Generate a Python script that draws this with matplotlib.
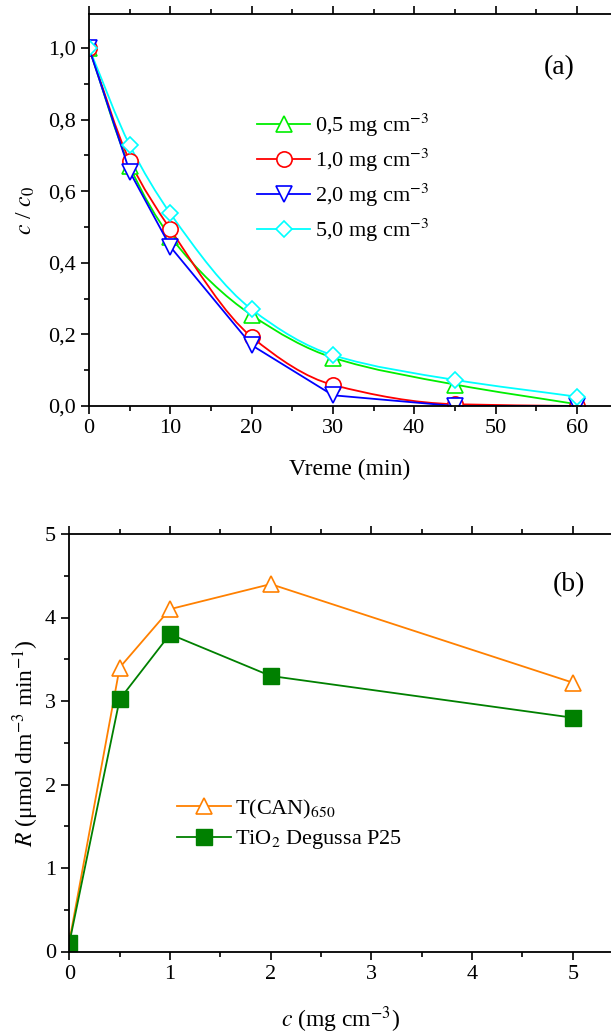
import numpy as np
import matplotlib
matplotlib.use("Agg")
import matplotlib.pyplot as plt
from matplotlib.path import Path
from matplotlib.patches import PathPatch
from matplotlib.lines import Line2D
from matplotlib.ticker import MultipleLocator, FuncFormatter

plt.rcParams['font.family'] = ['Liberation Serif', 'DejaVu Serif']
plt.rcParams['mathtext.fontset'] = 'stix'

# (a) c/c0 u zavisnosti od vremena
vreme = [0, 5, 10, 20, 30, 45, 60]
c_05 = [1.0, 0.67, 0.473, 0.254, 0.135, 0.06, 0.005]
c_10 = [1.0, 0.685, 0.494, 0.193, 0.059, 0.005, 0.0]
c_20 = [1.0, 0.655, 0.445, 0.17, 0.03, 0.0, 0.0]
c_50 = [1.0, 0.729, 0.538, 0.27, 0.142, 0.073, 0.026]
oznake_a = ["0,5 mg cm$^{-3}$", "1,0 mg cm$^{-3}$", "2,0 mg cm$^{-3}$", "5,0 mg cm$^{-3}$"]

# (b) brzina R u zavisnosti od koncentracije katalizatora
konc = [0, 0.5, 1, 2, 5]
r_can = [0.12, 3.4, 4.1, 4.4, 3.22]
r_p25 = [0.1, 3.02, 3.8, 3.3, 2.8]
oznake_b = ["T(CAN)$_{650}$", "TiO$_2$ Degussa P25"]


def glatka_putanja(x, y):
    # monotona kubna kriva kroz tacke, kao Bezier putanja
    x = np.asarray(x, float)
    y = np.asarray(y, float)
    h = np.diff(x)
    d = np.diff(y) / h
    m = np.zeros_like(y)
    m[0] = d[0]
    m[-1] = d[-1]
    for k in range(1, len(x) - 1):
        if d[k - 1] * d[k] > 0:
            w1 = 2 * h[k] + h[k - 1]
            w2 = h[k] + 2 * h[k - 1]
            m[k] = (w1 + w2) / (w1 / d[k - 1] + w2 / d[k])
    verts = [(x[0], y[0])]
    codes = [Path.MOVETO]
    for k in range(len(x) - 1):
        verts += [(x[k] + h[k] / 3, y[k] + m[k] * h[k] / 3),
                  (x[k + 1] - h[k] / 3, y[k + 1] - m[k + 1] * h[k] / 3),
                  (x[k + 1], y[k + 1])]
        codes += [Path.CURVE4] * 3
    return Path(verts, codes)


def zarez(v, pos):
    return f"{v:.1f}".replace('.', ',')


fig = plt.figure(figsize=(6.11, 10.34), dpi=100)

W, H = 611.0, 1034.0
ax1 = fig.add_axes([89 / W, 1 - 406 / H, 1 - 89 / W, (406 - 14) / H])
ax2 = fig.add_axes([69.3 / W, 1 - 951.5 / H, 1 - 69.3 / W, (951.5 - 534) / H])

# ---------- (a) ----------
serije = [
    (c_05, '#00ee00', '^', 11, True),
    (c_10, '#ff0000', 'o', 11, True),
    (c_20, '#0000ff', 'v', 11, False),
    (c_50, '#00ffff', 'D', 8.5, True),
]
rucke = []
for (vals, boja, mk, ms, glatko), lab in zip(serije, oznake_a):
    if glatko:
        ax1.add_patch(PathPatch(glatka_putanja(vreme, vals), fill=False,
                                edgecolor=boja, lw=1.3, zorder=1.5))
        ax1.plot(vreme, vals, ls='none', marker=mk, ms=ms, mfc='white',
                 mec=boja, mew=1.2, zorder=2)
    else:
        ax1.plot(vreme, vals, ls='-', color=boja, lw=1.3, marker=mk, ms=ms,
                 mfc='white', mec=boja, mew=1.2, zorder=2)
    rucke.append(Line2D([], [], color=boja, lw=1.3, marker=mk, ms=ms,
                        mfc='white', mec=boja, mew=1.2))

ax1.set_xlim(0, (W - 89) / 8.13)
ax1.set_ylim(0, 1.095)
ax1.xaxis.set_major_locator(MultipleLocator(10))
ax1.xaxis.set_minor_locator(MultipleLocator(5))
ax1.yaxis.set_major_locator(MultipleLocator(0.2))
ax1.yaxis.set_minor_locator(MultipleLocator(0.1))
ax1.yaxis.set_major_formatter(FuncFormatter(zarez))
ax1.set_xlabel("Vreme (min)", fontsize=17, labelpad=15)
ax1.set_ylabel(r"$c$ / $c_{\mathit{0}}$", fontsize=17, labelpad=8)
ax1.legend(rucke, oznake_a, loc='upper left', bbox_to_anchor=(0.305, 0.774),
           frameon=False, fontsize=16, handlelength=2.4, handletextpad=0.2,
           labelspacing=0.35, borderaxespad=0)
ax1.text(559, 68, "(a)", fontsize=20, ha='center', va='center',
         transform=None)

# ---------- (b) ----------
ax2.plot(konc, r_can, color='#ff8000', lw=1.3, marker='^', ms=12,
         mfc='white', mec='#ff8000', mew=1.2, label=oznake_b[0])
ax2.plot(konc, r_p25, color='#008000', lw=1.3, marker='s', ms=11,
         mfc='#008000', mec='#008000', label=oznake_b[1])
ax2.set_xlim(0, (W - 69.3) / 100.7)
ax2.set_ylim(0, 5)
ax2.xaxis.set_major_locator(MultipleLocator(1))
ax2.xaxis.set_minor_locator(MultipleLocator(0.5))
ax2.yaxis.set_major_locator(MultipleLocator(1))
ax2.yaxis.set_minor_locator(MultipleLocator(0.5))
ax2.set_xlabel("$c$ (mg cm$^{-3}$)", fontsize=17, labelpad=15)
ax2.set_ylabel("$R$ (μmol dm$^{-3}$ min$^{-1}$)", fontsize=17, labelpad=3)
ax2.legend(loc='upper left', bbox_to_anchor=(0.183, 0.39), frameon=False,
           fontsize=16, handlelength=2.4, handletextpad=0.2,
           labelspacing=0.35, borderaxespad=0)
ax2.text(569, 585, "(b)", fontsize=20, ha='center', va='center',
         transform=None)

for ax in (ax1, ax2):
    ax.spines['right'].set_visible(False)
    for s in ('left', 'bottom', 'top'):
        ax.spines[s].set_linewidth(1.3)
    ax.tick_params(which='both', direction='out', top=True, right=False,
                   labelsize=16, width=1.2)
    ax.tick_params(which='major', length=6)
    ax.tick_params(which='minor', length=3.5)

# text coordinates above were given in pixels from the top-left corner
for t in ax1.texts + ax2.texts:
    x, y = t.get_position()
    t.set_position((x, H - y))

fig.savefig("out.png", dpi=100)
